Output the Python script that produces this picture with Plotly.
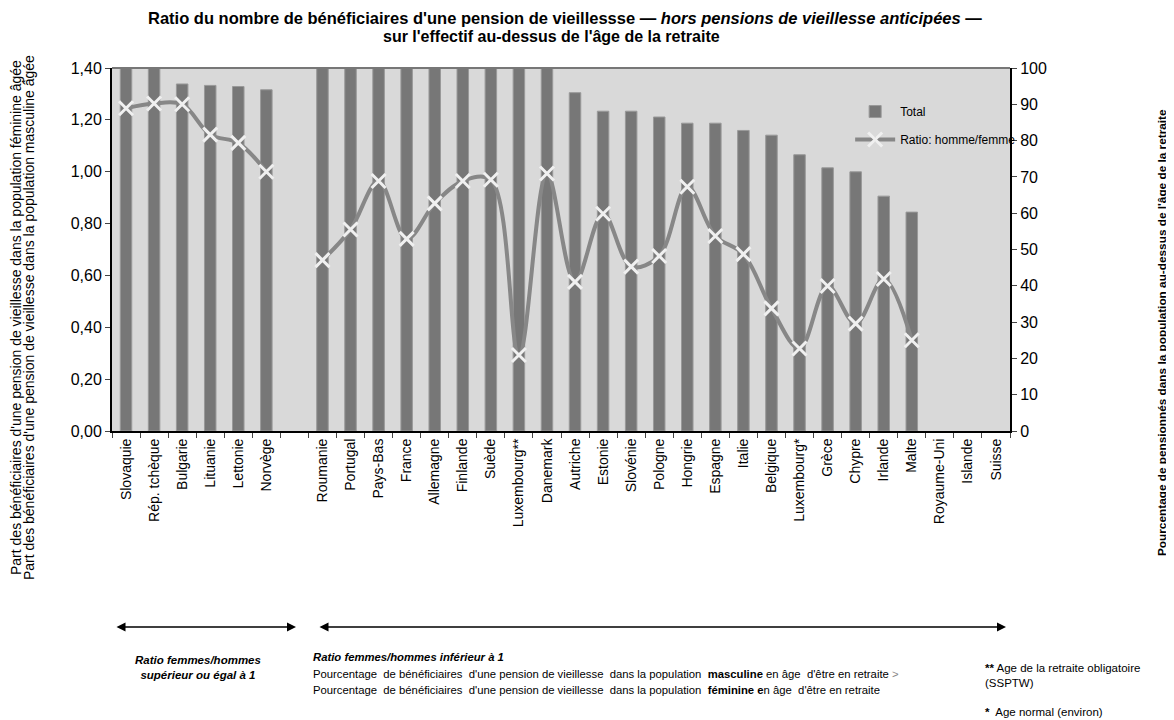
import plotly.graph_objects as go

# Categories (one empty slot separates the two groups)
pays = ["Slovaquie", "Rép. tchèque", "Bulgarie", "Lituanie", "Lettonie", "Norvège",
        " ",
        "Roumanie", "Portugal", "Pays-Bas", "France", "Allemagne", "Finlande",
        "Suède", "Luxembourg**", "Danemark", "Autriche", "Estonie", "Slovénie",
        "Pologne", "Hongrie", "Espagne", "Italie", "Belgique", "Luxembourg*",
        "Grèce", "Chypre", "Irlande", "Malte", "Royaume-Uni", "Islande", "Suisse"]

# Pourcentage de pensionnés (axe de droite)
total = [100, 100, 95.6, 95.2, 94.9, 94.0,
         None,
         100, 100, 100, 100, 100, 100,
         100, 100, 100, 93.2, 88.1, 88.1,
         86.5, 84.8, 84.8, 82.8, 81.5, 76.1,
         72.5, 71.4, 64.7, 60.3, None, None, None]

# Ratio homme/femme (axe de gauche)
ratio = [1.245, 1.263, 1.26, 1.143, 1.111, 1.00,
         None,
         0.659, 0.777, 0.964, 0.741, 0.878, 0.964,
         0.969, 0.293, 0.993, 0.575, 0.838, 0.634,
         0.675, 0.942, 0.752, 0.682, 0.473, 0.318,
         0.559, 0.414, 0.586, 0.350, None, None, None]

FONT = "Liberation Sans, Arial, sans-serif"

# plot area corners as measured on the reference (pixels)
L, R, TOP, BOT = 112, 1010, 68, 431


def px(x):
    return (x - L) / (R - L)


def py(y):
    return (BOT - y) / (BOT - TOP)


fig = go.Figure()
fig.add_trace(go.Bar(x=pays, y=total, name="Total", yaxis="y",
                     legendgroup="a",
                     marker=dict(color="#777777", line=dict(color="#999999", width=1)),
                     width=0.41))
fig.add_trace(go.Scatter(x=pays, y=ratio, name="Ratio: homme/femme", yaxis="y2",
                         legendgroup="b",
                         mode="lines+markers",
                         line=dict(color="#878787", width=4, shape="spline", smoothing=1),
                         marker=dict(symbol="x-thin", size=14,
                                     line=dict(color="#f0f0f0", width=3)),
                         connectgaps=False))

fig.update_layout(
    width=1174, height=720,
    margin=dict(l=104, r=172, t=60, b=297),
    paper_bgcolor="white", plot_bgcolor="#d9d9d9",
    font=dict(family=FONT, size=13, color="black"),
    separators=", ",
    showlegend=True,
    legend=dict(x=0.822, y=0.92, xanchor="left", yanchor="top",
                bgcolor="rgba(0,0,0,0)", font=dict(size=12),
                traceorder="grouped", tracegroupgap=9, itemwidth=40),
    xaxis=dict(type="category", range=[-0.5, len(pays) - 0.5],
               tickangle=-90, ticks="outside", tickson="boundaries",
               ticklen=5, showline=True, linecolor="black", linewidth=2,
               showgrid=False, tickfont=dict(size=14)),
    yaxis=dict(range=[0, 100], dtick=10, side="right",
               ticks="outside", ticklen=5, showline=True, linecolor="black",
               linewidth=2, showgrid=False, zeroline=False, tickfont=dict(size=16)),
    yaxis2=dict(range=[0, 1.4], dtick=0.2, tickformat=".2f", overlaying="y",
                side="left", ticks="outside", ticklen=5, showline=True,
                linecolor="black", linewidth=2, showgrid=False, zeroline=False,
                tickfont=dict(size=16)),
)

# top border of the plot area
fig.add_shape(type="line", xref="paper", yref="paper", x0=0, x1=1, y0=1, y1=1,
              line=dict(color="#777777", width=2))

# title (two lines)
fig.add_annotation(text=("<b>Ratio du nombre de bénéficiaires d'une pension de vieillessse — "
                         "<i>hors pensions de vieillesse anticipées</i> —</b>"),
                   xref="paper", yref="paper", x=px(565), y=py(18), showarrow=False,
                   font=dict(size=16.5), xanchor="center", yanchor="middle")
fig.add_annotation(text="<b>sur l'effectif au-dessus de l'âge de la retraite</b>",
                   xref="paper", yref="paper", x=px(551), y=py(36), showarrow=False,
                   font=dict(size=16), xanchor="center", yanchor="middle")

# axis titles
left_lines = ["Part des bénéficiaires d'une pension de vieillesse dans la population féminine âgée",
              "Part des bénéficiaires d'une pension de vieillesse dans la population masculine âgée"]
for xpos, txt in zip([16, 29], left_lines):
    fig.add_annotation(text=txt, xref="paper", yref="paper", x=px(xpos), y=py(318),
                       textangle=-90, showarrow=False, font=dict(size=14),
                       xanchor="center", yanchor="middle")
fig.add_annotation(text="<b>Pourcentage de pensionnés dans la population au-dessus de l'âge de la retraite</b>",
                   xref="paper", yref="paper", x=px(1162), y=py(333), textangle=-90,
                   showarrow=False, font=dict(size=11.8), xanchor="center", yanchor="middle")

# arrows under the axis
for x0, x1 in [(115, 296), (318, 1006)]:
    fig.add_annotation(xref="paper", yref="paper", x=px(x1), y=py(627),
                       ax=x0 - x1, ay=0, text="", showarrow=True,
                       arrowhead=2, startarrowhead=2, arrowside="end+start",
                       arrowsize=1.2, arrowwidth=1.5, arrowcolor="black")

fig.add_annotation(text="<b><i>Ratio femmes/hommes<br>supérieur ou égal à 1</i></b>",
                   xref="paper", yref="paper", x=px(198), y=py(667),
                   showarrow=False, font=dict(size=11.5), align="center",
                   xanchor="center", yanchor="middle")

notes = [("<b><i>Ratio femmes/hommes inférieur à 1</i></b>", 657),
         ("Pourcentage  de bénéficiaires  d'une pension de vieillesse  dans la population  "
          "<b>masculine</b> en âge  d'être en retraite <span style='color:#888'>&gt;</span>", 674),
         ("Pourcentage  de bénéficiaires  d'une pension de vieillesse  dans la population  "
          "<b>féminine e</b>n âge  d'être en retraite", 690)]
for txt, ypos in notes:
    fig.add_annotation(text=txt, xref="paper", yref="paper", x=px(311), y=py(ypos),
                       showarrow=False, font=dict(size=11.3), align="left",
                       xanchor="left", yanchor="middle")

fig.add_annotation(text="<b>**</b> Age de la retraite obligatoire<br>(SSPTW)",
                   xref="paper", yref="paper", x=px(983), y=py(675),
                   showarrow=False, font=dict(size=11.5), align="left",
                   xanchor="left", yanchor="middle")
fig.add_annotation(text="<b>*</b>  Age normal (environ)",
                   xref="paper", yref="paper", x=px(983), y=py(712),
                   showarrow=False, font=dict(size=11.5), align="left",
                   xanchor="left", yanchor="middle")

fig.write_html("out.html")
